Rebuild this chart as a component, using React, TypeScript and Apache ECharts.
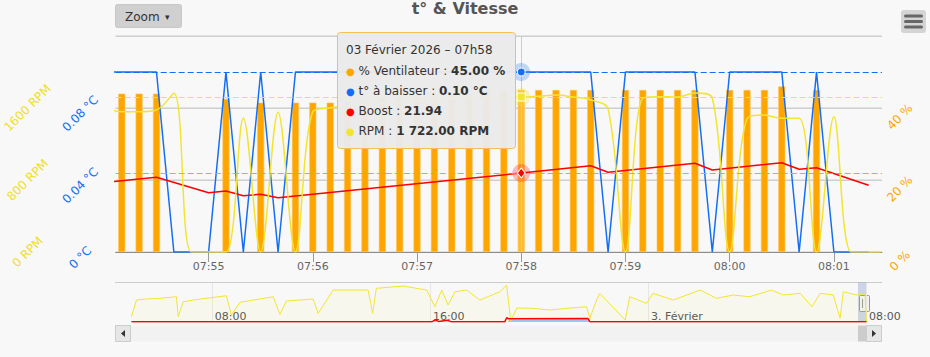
import React, { useEffect, useRef } from 'react';
import * as echarts from 'echarts';

const FONT = '"DejaVu Sans", Verdana, sans-serif';
const BLUE = '#146ef5';
const YELLOW = '#f2e530';
const ORANGE = '#ffa500';
const RED = '#ff0000';

// ---- main view (03 Feb 2026), one sample every 10 s ----
const TIMES = [
  '07:54:00', '07:54:10', '07:54:20', '07:54:30', '07:54:40', '07:54:50', '07:55:00', '07:55:10', '07:55:20', '07:55:30',
  '07:55:40', '07:55:50', '07:56:00', '07:56:10', '07:56:20', '07:56:30', '07:56:40', '07:56:50', '07:57:00', '07:57:10',
  '07:57:20', '07:57:30', '07:57:40', '07:57:50', '07:58:00', '07:58:10', '07:58:20', '07:58:30', '07:58:40', '07:58:50',
  '07:59:00', '07:59:10', '07:59:20', '07:59:30', '07:59:40', '07:59:50', '08:00:00', '08:00:10', '08:00:20', '08:00:30',
  '08:00:40', '08:00:50', '08:01:00', '08:01:10', '08:01:20', '08:01:27',
];
// % Ventilateur (column, % axis)
const FAN_PCT: (number | null)[] = [
  null, 44, 44, 44, null, null, null, 42.5, null, 41.5,
  null, 41.5, 41.5, 41.5, 42, 42, 43, 43, 43, 44,
  44, 44, 45, 45, 45, 45, 45, 45, 45, null,
  45, 45, 45, 45, 45, null, 45, 45, 45, 46,
  null, 45, null, null, null, null,
];
// t° à baisser (°C axis)
const T_DROP: (number | null)[] = [
  0.1, 0.1, 0.1, 0.1, 0, 0, 0, 0.1, 0, 0.1,
  0, 0.1, 0.1, 0.1, 0.1, 0.1, 0.1, 0.1, 0.1, 0.1,
  0.1, 0.1, 0.1, 0.1, 0.1, 0.1, 0.1, 0.1, 0.1, 0,
  0.1, 0.1, 0.1, 0.1, 0.1, 0, 0.1, 0.1, 0.1, 0.1,
  0, 0.1, 0, 0, 0, null,
];
// RPM (RPM axis)
const RPM: number[] = [
  1600, 1559, 1559, 1578, 1763, 0, 0, 0, 1485, 0,
  1552, 0, 1560, 1600, 1625, 1640, 1655, 1665, 1680, 1690,
  1700, 1705, 1712, 1718, 1722, 1731, 1744, 1722, 1689, 1590,
  0, 1711, 1726, 1722, 1767, 1711, 0, 1480, 1522, 1485,
  1485, 0, 1503, 0, 0, 0,
];
// Boost (% axis), recorded vertices
const BOOST_TIMES = [
  '07:54:00', '07:54:30', '07:55:00', '07:55:10', '07:55:20', '07:55:30', '07:55:40', '07:58:00',
  '07:58:40', '07:58:50', '07:59:40', '07:59:50', '08:00:30', '08:00:40', '08:00:50', '08:01:20',
];
const BOOST = [19.3, 20.75, 16.47, 16.94, 15.64, 16.03, 15.08, 21.94, 23.97, 22.14, 24.64, 22.78, 24.81, 22.97, 23.42, 18.53];

const X_TICKS = ['07:55', '07:56', '07:57', '07:58', '07:59', '08:00', '08:01'];
const HOVER = '07:58:00';

// ---- navigator (whole period) ----
const NAV_TIMES = [
  '02 05:03', '02 05:14', '02 05:36', '02 06:05', '02 06:42', '02 06:46', '02 06:57', '02 07:34', '02 08:32', '02 08:43',
  '02 09:02', '02 10:15', '02 10:30', '02 10:44', '02 11:43', '02 11:54', '02 12:27', '02 13:44', '02 13:54', '02 14:02',
  '02 15:01', '02 15:53', '02 16:11', '02 16:26', '02 16:40', '02 16:55', '02 17:21', '02 17:50', '02 18:34', '02 18:49',
  '02 18:58', '02 19:11', '02 19:47', '02 20:24', '02 21:01', '02 21:45', '02 21:52', '02 22:07', '02 22:14', '02 23:10',
  '02 23:20', '02 23:57', '03 00:11', '03 00:56', '03 01:55', '03 02:31', '03 03:08', '03 03:44', '03 04:32', '03 04:58',
  '03 05:35', '03 06:01', '03 06:19', '03 06:48', '03 07:03', '03 07:10', '03 07:40', '03 07:58', '03 08:01',
];
const NAV_RPM = [
  326, 1353, 1415, 1458, 1556, 326, 1248, 1415, 1617, 430,
  1212, 1556, 474, 1292, 1415, 535, 1968, 1968, 535, 2073,
  2214, 1968, 941, 1968, 1046, 1863, 1968, 1353, 1863, 2276,
  62, 861, 843, 738, 843, 941, 228, 1353, 1765, 123,
  1556, 1150, 1765, 1353, 1968, 1458, 1661, 1556, 1968, 1661,
  1765, 941, 1765, 1661, 228, 1863, 1661, 1722, 0,
];
const NAV_BOOST_TIMES = ['02 05:03', '02 16:05', '02 16:12', '02 16:20', '02 16:38', '02 16:46', '02 18:45', '02 18:49', '02 18:53', '02 21:48', '02 21:52', '03 08:01'];
const NAV_BOOST = [20, 20, 130, 25, 110, 20, 20, 260, 200, 210, 20, 19];
const NAV_TDROP_TIMES = ['02 05:03', '02 16:08', '02 16:12', '02 16:16', '02 18:51', '02 18:55', '02 21:47', '02 21:51', '03 08:01'];
const NAV_TDROP = [0, 0, 100, 0, 0, 150, 150, 0, 0];
const NAV_TICKS = ['02 08:00', '02 16:00', '03 00:00', '03 08:00'];
const NAV_START = '02 05:02';

function ts(hms: string) {
  const p = hms.split(':').map(Number);
  return Date.UTC(2026, 1, 3, p[0], p[1], p[2] || 0);
}
function navTs(s: string) {
  const [d, hm] = s.split(' ');
  const [h, m] = hm.split(':').map(Number);
  return Date.UTC(2026, 1, Number(d), h, m);
}
const pad = (n: number) => (n < 10 ? '0' : '') + n;
function fmt(n: number, d: number) {
  const [a, b] = n.toFixed(d).split('.');
  return a.replace(/\B(?=(\d{3})+(?!\d))/g, ' ') + (b ? '.' + b : '');
}

function buildOption(): any {
  const hi = TIMES.indexOf(HOVER);
  const hx = ts(HOVER);
  const x0 = ts(TIMES[0]);
  const X_MIN = x0 + 6500;
  const X_MAX = x0 + 447700;

  const fanData: any[] = [];
  FAN_PCT.forEach((v, i) => {
    if (v == null) return;
    if (TIMES[i] === HOVER) fanData.push({ value: [ts(TIMES[i]), v], itemStyle: { color: '#ffbb2e' } });
    else fanData.push([ts(TIMES[i]), v]);
  });
  const tData: any[] = [];
  T_DROP.forEach((v, i) => { if (v != null) tData.push([ts(TIMES[i]), v]); });
  const rpmData = RPM.map((v, i) => [ts(TIMES[i]), v]);
  const boostData = BOOST.map((v, i) => [ts(BOOST_TIMES[i]), v]);

  const fanV = FAN_PCT[hi] as number;
  const tV = T_DROP[hi] as number;
  const bV = BOOST[BOOST_TIMES.indexOf(HOVER)];
  const rV = RPM[hi];

  const navRpm = NAV_RPM.map((v, i) => [navTs(NAV_TIMES[i]), v]);
  const navBoost = NAV_BOOST.map((v, i) => [navTs(NAV_BOOST_TIMES[i]), v]);
  const navT = NAV_TDROP.map((v, i) => [navTs(NAV_TDROP_TIMES[i]), v]);

  const dashed = (color: string, value: number) => ({
    silent: true, symbol: 'none', label: { show: false },
    lineStyle: { color, width: 1, type: [6, 3], opacity: 1 },
    emphasis: { disabled: true },
    data: [{ yAxis: value }],
  });
  const hoverPoint = (value: number, color: string, halo: string, symbol: string, size: any) => ({
    silent: true, label: { show: false },
    data: [
      { coord: [hx, value], symbol: 'circle', symbolSize: 18, itemStyle: { color: halo } },
      { coord: [hx, value], symbol, symbolSize: size, itemStyle: { color, borderColor: '#ffffff', borderWidth: 1 } },
    ],
  });

  const TZ = 100;
  const txt = (x: number, y: number, text: string, extra: any = {}) => ({
    type: 'text', x, y, z: TZ + 1,
    style: { text, fill: '#333333', fontSize: 12, fontFamily: FONT, verticalAlign: 'middle', ...extra },
  });
  const rich = (dot: string) => ({
    d: { fill: dot, fontSize: 10, fontFamily: FONT },
    b: { fill: '#333333', fontSize: 12, fontFamily: FONT, fontWeight: 'bold' },
  });

  const header = '03 Février 2026 – ' + HOVER.slice(0, 2) + 'h' + HOVER.slice(3, 5);

  return {
    animation: false,
    backgroundColor: '#f8f8f8',
    textStyle: { fontFamily: FONT },
    title: {
      text: 't° & Vitesse', left: 'center', top: 0, padding: 0,
      textStyle: { fontSize: 16, fontWeight: 'bold', color: '#555555', fontFamily: FONT },
    },
    grid: [
      { left: 115, right: 48, top: 36, height: 216 },
      { left: 131, right: 63.4, top: 283, height: 39 },
    ],
    xAxis: [
      {
        type: 'value', gridIndex: 0, min: X_MIN, max: X_MAX,
        axisLine: { onZero: false, lineStyle: { color: '#8c8c8c', width: 1 } },
        axisTick: { customValues: X_TICKS.map(ts), length: 10, lineStyle: { color: '#999999' } },
        axisLabel: {
          customValues: X_TICKS.map(ts), color: '#666666', fontSize: 11, fontFamily: FONT, margin: 9,
          formatter: (v: number) => { const d = new Date(v); return pad(d.getUTCHours()) + ':' + pad(d.getUTCMinutes()); },
        },
        splitLine: { show: false },
      },
      {
        type: 'value', gridIndex: 1, min: navTs(NAV_START), max: ts(TIMES[TIMES.length - 2]),
        axisLine: { show: false },
        axisTick: { show: false, customValues: NAV_TICKS.map(navTs) },
        axisLabel: {
          customValues: NAV_TICKS.map(navTs), color: '#555555', fontSize: 11, fontFamily: FONT,
          margin: -11, align: 'left', padding: [0, 0, 0, 3],
          formatter: (v: number) => {
            const d = new Date(v);
            if (d.getUTCHours() === 0 && d.getUTCMinutes() === 0) return d.getUTCDate() + '. Février';
            return pad(d.getUTCHours()) + ':' + pad(d.getUTCMinutes());
          },
        },
        splitLine: { show: true, lineStyle: { color: '#e6e6e6', width: 1 } },
      },
    ],
    yAxis: [
      {
        type: 'value', gridIndex: 0, position: 'right', min: 0, max: 60, interval: 20,
        axisLine: { show: false }, axisTick: { show: false },
        splitLine: { show: true, lineStyle: { color: '#e2e2e2', width: 2 } },
        axisLabel: {
          color: ORANGE, fontSize: 12, fontFamily: FONT, rotate: 45, align: 'center', verticalAlign: 'top',
          lineHeight: 25, margin: 9, formatter: (v: number) => (v >= 60 ? '' : v + ' %'),
        },
      },
      {
        type: 'value', gridIndex: 0, position: 'left', min: 0, max: 0.12, interval: 0.04,
        axisLine: { show: false }, axisTick: { show: false },
        splitLine: { show: true, lineStyle: { color: '#cfcfcf', width: 1 } },
        axisLabel: {
          color: BLUE, fontSize: 12, fontFamily: FONT, rotate: 45, align: 'center', verticalAlign: 'top',
          lineHeight: 16, margin: 41, formatter: (v: number) => (v > 0.1 ? '' : +v.toFixed(2) + ' °C'),
        },
      },
      {
        type: 'value', gridIndex: 0, position: 'left', min: 0, max: 2400, interval: 800,
        axisLine: { show: false }, axisTick: { show: false }, splitLine: { show: false },
        axisLabel: {
          color: '#efe02a', fontSize: 12, fontFamily: FONT, rotate: 45, align: 'center', verticalAlign: 'middle',
          margin: 88, formatter: (v: number) => (v >= 2400 ? '' : v + ' RPM'),
        },
      },
      { type: 'value', gridIndex: 1, min: 0, max: 2400, show: false },
    ],
    series: [
      {
        name: 'crosshair', type: 'line', xAxisIndex: 0, yAxisIndex: 0, data: [], z: 0, silent: true,
        markLine: {
          silent: true, symbol: 'none', label: { show: false },
          lineStyle: { color: '#cccccc', width: 1, type: 'solid' },
          data: [{ xAxis: hx }],
        },
      },
      {
        name: '% Ventilateur', type: 'bar', xAxisIndex: 0, yAxisIndex: 0, data: fanData, barWidth: 7, z: 1,
        itemStyle: { color: ORANGE, borderColor: '#ffc45e', borderWidth: 0.6 },
      },
      {
        name: 't° à baisser', type: 'line', xAxisIndex: 0, yAxisIndex: 1, data: tData, showSymbol: false,
        lineStyle: { color: BLUE, width: 1.5 }, itemStyle: { color: BLUE },
        markLine: dashed(BLUE, tV),
        markPoint: hoverPoint(tV, BLUE, 'rgba(20,110,245,0.25)', 'circle', 8),
      },
      {
        name: 'Boost', type: 'line', xAxisIndex: 0, yAxisIndex: 0, data: boostData, showSymbol: false,
        lineStyle: { color: RED, width: 1.5 }, itemStyle: { color: RED },
        markLine: dashed(ORANGE, bV),
        markPoint: hoverPoint(bV, RED, 'rgba(255,0,0,0.25)', 'diamond', [8, 10]),
      },
      {
        name: 'RPM', type: 'line', xAxisIndex: 0, yAxisIndex: 2, data: rpmData, showSymbol: false, smooth: 0.35,
        lineStyle: { color: YELLOW, width: 1.5 }, itemStyle: { color: YELLOW },
        markLine: dashed(YELLOW, rV),
        markPoint: hoverPoint(rV, YELLOW, 'rgba(242,229,48,0.3)', 'rect', 8),
      },
      {
        name: 'nav RPM', type: 'line', xAxisIndex: 1, yAxisIndex: 3, data: navRpm, showSymbol: false, silent: true,
        lineStyle: { color: YELLOW, width: 1 }, areaStyle: { color: 'rgba(242,229,48,0.07)' },
      },
      {
        name: 'nav t°', type: 'line', xAxisIndex: 1, yAxisIndex: 3, data: navT, showSymbol: false, silent: true,
        lineStyle: { width: 0 }, areaStyle: { color: 'rgba(20,110,245,0.55)' },
      },
      {
        name: 'nav Boost', type: 'line', xAxisIndex: 1, yAxisIndex: 3, data: navBoost, showSymbol: false, silent: true,
        lineStyle: { color: RED, width: 1.5 },
      },
    ],
    graphic: [
      // Zoom button
      { type: 'rect', shape: { x: 115.5, y: 4.5, width: 66, height: 23, r: 2 }, style: { fill: '#d0d0d0', stroke: '#c8c8c8' } },
      txt(125, 16.5, 'Zoom', { fill: '#333333' }),
      txt(165, 16.5, '▾', { fill: '#333333', fontSize: 9 }),
      // menu
      { type: 'rect', shape: { x: 901, y: 10, width: 25, height: 23, r: 3 }, style: { fill: '#d4d4d4' } },
      ...[16, 21.5, 27].map((y) => ({
        type: 'line', shape: { x1: 905.5, y1: y, x2: 921.5, y2: y },
        style: { stroke: '#666666', lineWidth: 3, lineCap: 'round' },
      })),
      // navigator outline and selection
      { type: 'line', shape: { x1: 115, y1: 282.5, x2: 882, y2: 282.5 }, style: { stroke: '#cccccc', lineWidth: 1 } },
      { type: 'rect', shape: { x: 858, y: 282.5, width: 8.6, height: 39.5 }, style: { fill: 'rgba(102,133,194,0.3)' } },
      { type: 'rect', shape: { x: 859.5, y: 295.5, width: 10, height: 16, r: 1 }, style: { fill: '#f2f2f2', stroke: '#999999' } },
      { type: 'line', shape: { x1: 862.5, y1: 299, x2: 862.5, y2: 308 }, style: { stroke: '#999999' } },
      { type: 'line', shape: { x1: 866.5, y1: 299, x2: 866.5, y2: 308 }, style: { stroke: '#999999' } },
      // scrollbar
      { type: 'rect', shape: { x: 115, y: 325.5, width: 767, height: 16 }, style: { fill: '#f2f2f2' } },
      { type: 'rect', shape: { x: 858, y: 325.5, width: 8.6, height: 16 }, style: { fill: '#cccccc' } },
      { type: 'rect', shape: { x: 115.5, y: 325.5, width: 15, height: 16 }, style: { fill: '#e6e6e6', stroke: '#cccccc' } },
      { type: 'polygon', shape: { points: [[125, 330], [125, 337], [121, 333.5]] }, style: { fill: '#333333' } },
      { type: 'rect', shape: { x: 866.5, y: 325.5, width: 15, height: 16 }, style: { fill: '#e6e6e6', stroke: '#cccccc' } },
      { type: 'polygon', shape: { points: [[872, 330], [872, 337], [876, 333.5]] }, style: { fill: '#333333' } },
      // tooltip
      { type: 'rect', z: TZ, shape: { x: 337.5, y: 32.5, width: 178, height: 116, r: 3 }, style: { fill: 'rgba(234,234,234,0.97)', stroke: '#f7bd56', lineWidth: 1 } },
      txt(346, 50, header),
      txt(346, 71, `{d|●} % Ventilateur : {b|${fmt(fanV, 2)} %}`, { rich: rich(ORANGE) }),
      txt(346, 91, `{d|●} t° à baisser : {b|${fmt(tV, 2)} °C}`, { rich: rich(BLUE) }),
      txt(346, 111, `{d|●} Boost : {b|${fmt(bV, 2)}}`, { rich: rich(RED) }),
      txt(346, 131, `{d|●} RPM : {b|${fmt(rV, 2)} RPM}`, { rich: rich(YELLOW) }),
    ],
  };
}

export default function App() {
  const ref = useRef<HTMLDivElement>(null);
  useEffect(() => {
    const chart = echarts.init(ref.current!, null, { renderer: 'svg' });
    chart.setOption(buildOption());
    return () => chart.dispose();
  }, []);
  return (
    <div
      ref={ref}
      style={{ position: 'fixed', left: 0, top: 0, width: 930, height: 357, background: '#f8f8f8' }}
    />
  );
}
